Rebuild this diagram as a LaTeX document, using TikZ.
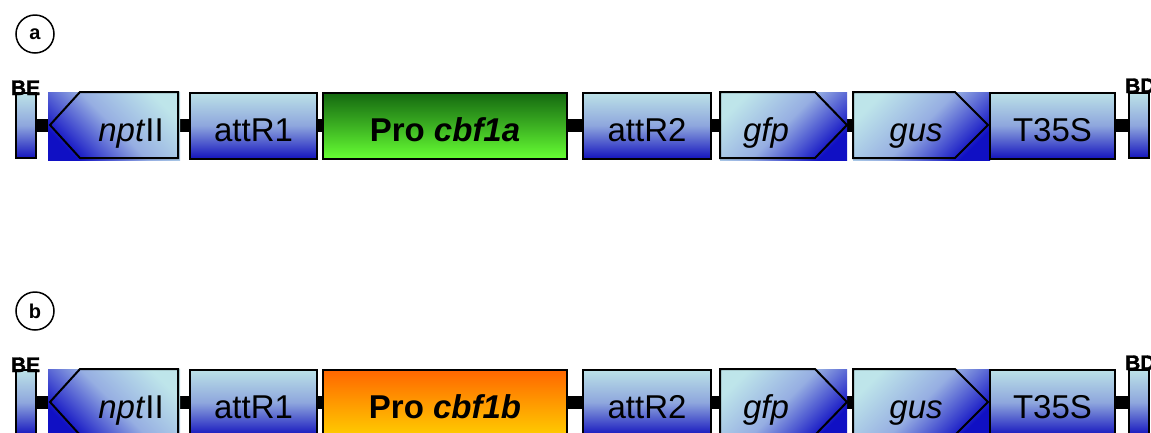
\documentclass[tikz,border=0pt]{standalone}
\usepackage{fontspec}
\setmainfont{Liberation Sans}
\newfontfamily\heavyfont[BoldFeatures={FakeBold=1.6}]{Liberation Sans}
\usetikzlibrary{calc}
\pgfdeclarelayer{paper}
\pgfdeclarelayer{background}
\pgfsetlayers{paper,background,main}
\definecolor{bxl}{HTML}{BCE2E7}
\definecolor{bxm}{HTML}{8EA6DD}
\definecolor{bxd}{HTML}{1414BE}
\definecolor{arl}{HTML}{BEE5EA}
\definecolor{arm}{HTML}{96AEE2}
\definecolor{ard}{HTML}{1010C4}
\definecolor{grT}{HTML}{146810}
\definecolor{grM}{HTML}{3CB022}
\definecolor{grB}{HTML}{66FF33}
\definecolor{orT}{HTML}{FF6600}
\definecolor{orM}{HTML}{FF9900}
\definecolor{orB}{HTML}{FFCC00}
\tikzset{
  x=1pt, y=-1pt,
  bigfont/.style={font=\fontsize{33}{40}\selectfont},
  box/.style={draw=black, line width=2pt, inner sep=0pt, top color=bxl, bottom color=bxd, middle color=bxm,
    text height=36pt, text depth=5pt, bigfont},
  probox/.style={draw=black, line width=2pt, inner sep=0pt, text height=36pt, text depth=5pt,
    font=\fontsize{33}{40}\selectfont\bfseries},
  greenfill/.style={top color=grT, bottom color=grB, middle color=grM},
  orangefill/.style={top color=orT, bottom color=orB, middle color=orM},
  endbox/.style={draw=black, line width=2pt, inner sep=0pt, top color=bxl, bottom color=bxd, middle color=bxm,
    minimum width=20pt, minimum height=65pt},
  arrfill/.style={draw=none, inner sep=0pt, top color=arl, bottom color=ard, middle color=arm},
  outl/.style={draw=black, line width=2pt, line join=miter},
  lbl/.style={inner sep=0pt, anchor=base, bigfont},
  endlbl/.style={inner sep=0pt, font=\fontsize{21}{24}\selectfont\heavyfont\bfseries},
  circ/.style={draw=black, circle, line width=1.5pt, minimum size=38pt, inner sep=0pt,
    font=\fontsize{20}{22}\selectfont\bfseries},
  backbone/.style={draw=black, line width=13pt},
}
\newcommand\construct[5]{%
\begin{scope}[yshift=#2]
  \node[circ] (circ#1) at (35,34) {#3};
  % end borders
  \node[endbox] (BE#1) at (26,125.5) {};
  \node[endbox] (BD#1) at (1139,125.5) {};
  % nptII (reverse arrow)
  \node[arrfill, shading angle=-45, minimum width=132pt, minimum height=68pt] (npt#1) at (114,126) {};
  \draw[outl] (80,92) -- (178,92) -- (178,158) -- (80,158) -- (50,125) -- cycle;
  \node[lbl] (nptl#1) at (131,141) {\textit{npt}II};
  % attR1
  \node[box, minimum width=127pt, minimum height=66pt] (attRa#1) at (253.5,125.5) {attR1};
  % promoter
  \node[probox, #5, minimum width=244pt, minimum height=66pt] (pro#1) at (445,125.5) {Pro \textit{#4}};
  % attR2
  \node[box, minimum width=128pt, minimum height=66pt] (attRb#1) at (647,125.5) {attR2};
  % gfp
  \node[arrfill, shading angle=45, minimum width=127pt, minimum height=68pt] (gfp#1) at (783.5,126) {};
  \draw[outl] (720,92) -- (815,92) -- (847,125) -- (815,158) -- (720,158) -- cycle;
  \node[lbl] (gfpl#1) at (766,141) {\textit{gfp}};
  % gus
  \node[arrfill, shading angle=45, minimum width=137pt, minimum height=68pt] (gus#1) at (921.5,126) {};
  \draw[outl] (853,92) -- (955,92) -- (988,125) -- (955,158) -- (853,158) -- cycle;
  \node[lbl] (gusl#1) at (916,141) {\textit{gus}};
  % T35S
  \node[box, minimum width=125pt, minimum height=66pt] (T#1) at (1052.5,125.5) {T35S};
  % end labels
  \node[endlbl, anchor=base] (BEl#1) at (25.5,95) {BE};
  \node[endlbl, anchor=base west] (BDl#1) at (1125,93) {BD};
  % backbone
  \begin{pgfonlayer}{background}
    \draw[backbone] (BE#1.center) -- (BD#1.center);
  \end{pgfonlayer}
\end{scope}}
\begin{document}
\begin{tikzpicture}
  \useasboundingbox (0,0) rectangle (1151,432);
  \clip (0,0) rectangle (1151,432);
  \begin{pgfonlayer}{paper}
    \fill[white] (0,0) rectangle (1151,432);
  \end{pgfonlayer}
  \construct{a}{0pt}{a}{cbf1a}{greenfill}
  \construct{b}{-277pt}{b}{cbf1b}{orangefill}
\end{tikzpicture}
\end{document}
